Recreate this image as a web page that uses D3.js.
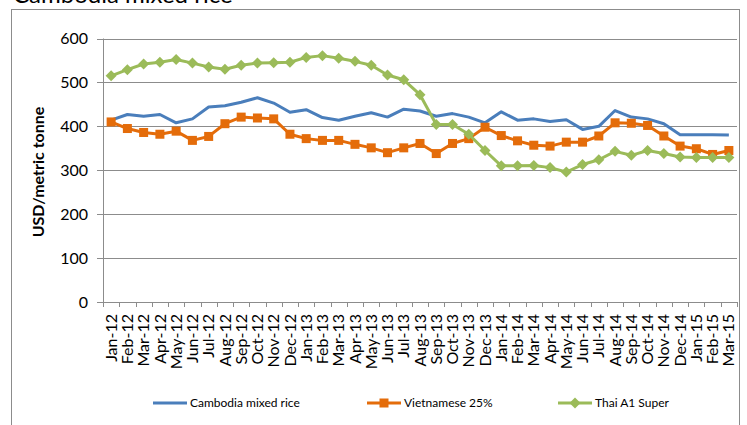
<!DOCTYPE html>
<meta charset="utf-8">

<style>
body{
	background-color: #fff;
	margin: 0px;
}

svg{
	font-family: Lato, "Open Sans", sans-serif;
}

.grid line{
	stroke: #8c8c8c;
	stroke-width: 1;
}

</style>

<body></body>

<script src="https://cdn.jsdelivr.net/npm/d3@7"></script>

<script>

var width  = 747,
		height = 425

var months = ['Jan-12','Feb-12','Mar-12','Apr-12','May-12','Jun-12','Jul-12','Aug-12','Sep-12','Oct-12','Nov-12','Dec-12',
	'Jan-13','Feb-13','Mar-13','Apr-13','May-13','Jun-13','Jul-13','Aug-13','Sep-13','Oct-13','Nov-13','Dec-13',
	'Jan-14','Feb-14','Mar-14','Apr-14','May-14','Jun-14','Jul-14','Aug-14','Sep-14','Oct-14','Nov-14','Dec-14',
	'Jan-15','Feb-15','Mar-15']

var cambodia = [414, 427, 423, 427, 408, 417, 444, 447, 455, 465, 453, 432,
	438, 420, 414, 423, 431, 421, 439, 435, 423, 429, 421, 408,
	433, 414, 417, 411, 415, 393, 400, 436, 421, 417, 406, 381,
	381, 381, 380]

var vietnam = [410, 395, 386, 382, 389, 368, 377, 406, 421, 419, 417, 382,
	372, 368, 368, 359, 351, 340, 351, 361, 338, 361, 372, 398,
	379, 367, 357, 355, 364, 364, 378, 408, 407, 402, 378, 355,
	349, 336, 345]

var thai = [515, 529, 542, 546, 552, 544, 535, 530, 539, 544, 545, 546,
	557, 561, 555, 548, 539, 517, 506, 472, 404, 404, 382, 345,
	310, 310, 311, 306, 296, 313, 324, 343, 334, 345, 338, 330,
	329, 329, 329]

var yTicks = [0, 100, 200, 300, 400, 500, 600]

var series = [
	{name: 'Cambodia mixed rice', values: cambodia, color: '#4a7ebb', marker: null, lx: 153},
	{name: 'Vietnamese 25%', values: vietnam, color: '#e46c0a', marker: 'square', lx: 367},
	{name: 'Thai A1 Super', values: thai, color: '#9bbb59', marker: 'diamond', lx: 558}
]

var svg = d3.select('body')
	.append('svg')
		.attr('width', width)
		.attr('height', height)

var x = d3.scaleBand().domain(months).range([103, 737])
var y = d3.scaleLinear().domain([0, 600]).range([302, 38.5])

// outer frame, bottom edge runs off the picture
svg.append('rect')
		.attr('x', 11.5).attr('y', 9.5)
		.attr('width', 728).attr('height', 430)
		.attr('fill', 'none')
		.attr('stroke', '#8c8c8c')

// title sits mostly above the top edge, as in the source
svg.append('text')
		.attr('x', 13).attr('y', 3)
		.attr('font-size', 24)
		.text('Cambodia mixed rice')

// gridlines
svg.append('g').attr('class', 'grid')
	.selectAll('line').data(yTicks).join('line')
		.attr('x1', 97).attr('x2', 737)
		.attr('y1', function(d){ return Math.round(y(d)) + 0.5 })
		.attr('y2', function(d){ return Math.round(y(d)) + 0.5 })

svg.append('g')
	.selectAll('text').data(yTicks).join('text')
		.attr('x', 88)
		.attr('y', function(d){ return y(d) })
		.attr('dy', '0.35em')
		.attr('text-anchor', 'end')
		.attr('font-size', 16)
		.text(function(d){ return d })

// axis lines + category ticks
svg.append('line')
		.attr('x1', 103.5).attr('x2', 103.5)
		.attr('y1', y(600)).attr('y2', 307)
		.attr('stroke', '#8c8c8c')

svg.append('g')
	.selectAll('line').data(months.concat(['end'])).join('line')
		.attr('x1', function(d, i){ return Math.round(103 + i*x.step()) + 0.5 })
		.attr('x2', function(d, i){ return Math.round(103 + i*x.step()) + 0.5 })
		.attr('y1', 302).attr('y2', 307)
		.attr('stroke', '#8c8c8c')

svg.append('g')
	.selectAll('text').data(months).join('text')
		.attr('transform', function(d){
			return 'translate(' + (x(d) + x.bandwidth()/2) + ',314) rotate(-90)' })
		.attr('dy', '0.35em')
		.attr('text-anchor', 'end')
		.attr('font-size', 16)
		.text(function(d){ return d })

svg.append('text')
		.attr('transform', 'translate(38,172) rotate(-90)')
		.attr('dy', '0.35em')
		.attr('text-anchor', 'middle')
		.attr('font-size', 16)
		.attr('font-weight', 'bold')
		.text('USD/metric tonne')

var line = d3.line()
	.x(function(d, i){ return x(months[i]) + x.bandwidth()/2 })
	.y(function(d){ return y(d) })

function drawMarker(g, type, color){
	if(type == 'square'){
		g.append('rect')
				.attr('x', -4.5).attr('y', -4.5)
				.attr('width', 9).attr('height', 9)
				.attr('fill', color)
	} else if(type == 'diamond'){
		g.append('path')
				.attr('d', 'M0,-5.5L5.5,0L0,5.5L-5.5,0Z')
				.attr('fill', color)
	}
}

series.forEach(function(s){
	svg.append('path')
			.attr('d', line(s.values))
			.attr('fill', 'none')
			.attr('stroke', s.color)
			.attr('stroke-width', 3)
			.attr('stroke-linejoin', 'round')

	if(s.marker){
		s.values.forEach(function(v, i){
			var g = svg.append('g')
				.attr('transform', 'translate(' + (x(months[i]) + x.bandwidth()/2) + ',' + y(v) + ')')
			drawMarker(g, s.marker, s.color)
		})
	}

	// legend
	var lg = svg.append('g').attr('transform', 'translate(' + s.lx + ',403)')
	lg.append('line')
			.attr('x1', 0).attr('x2', 34)
			.attr('stroke', s.color)
			.attr('stroke-width', 3)
	if(s.marker){
		var m = lg.append('g').attr('transform', 'translate(17,0)')
		drawMarker(m, s.marker, s.color)
	}
	lg.append('text')
			.attr('x', 37)
			.attr('dy', '0.35em')
			.attr('font-size', 12)
			.text(s.name)
})

</script>
